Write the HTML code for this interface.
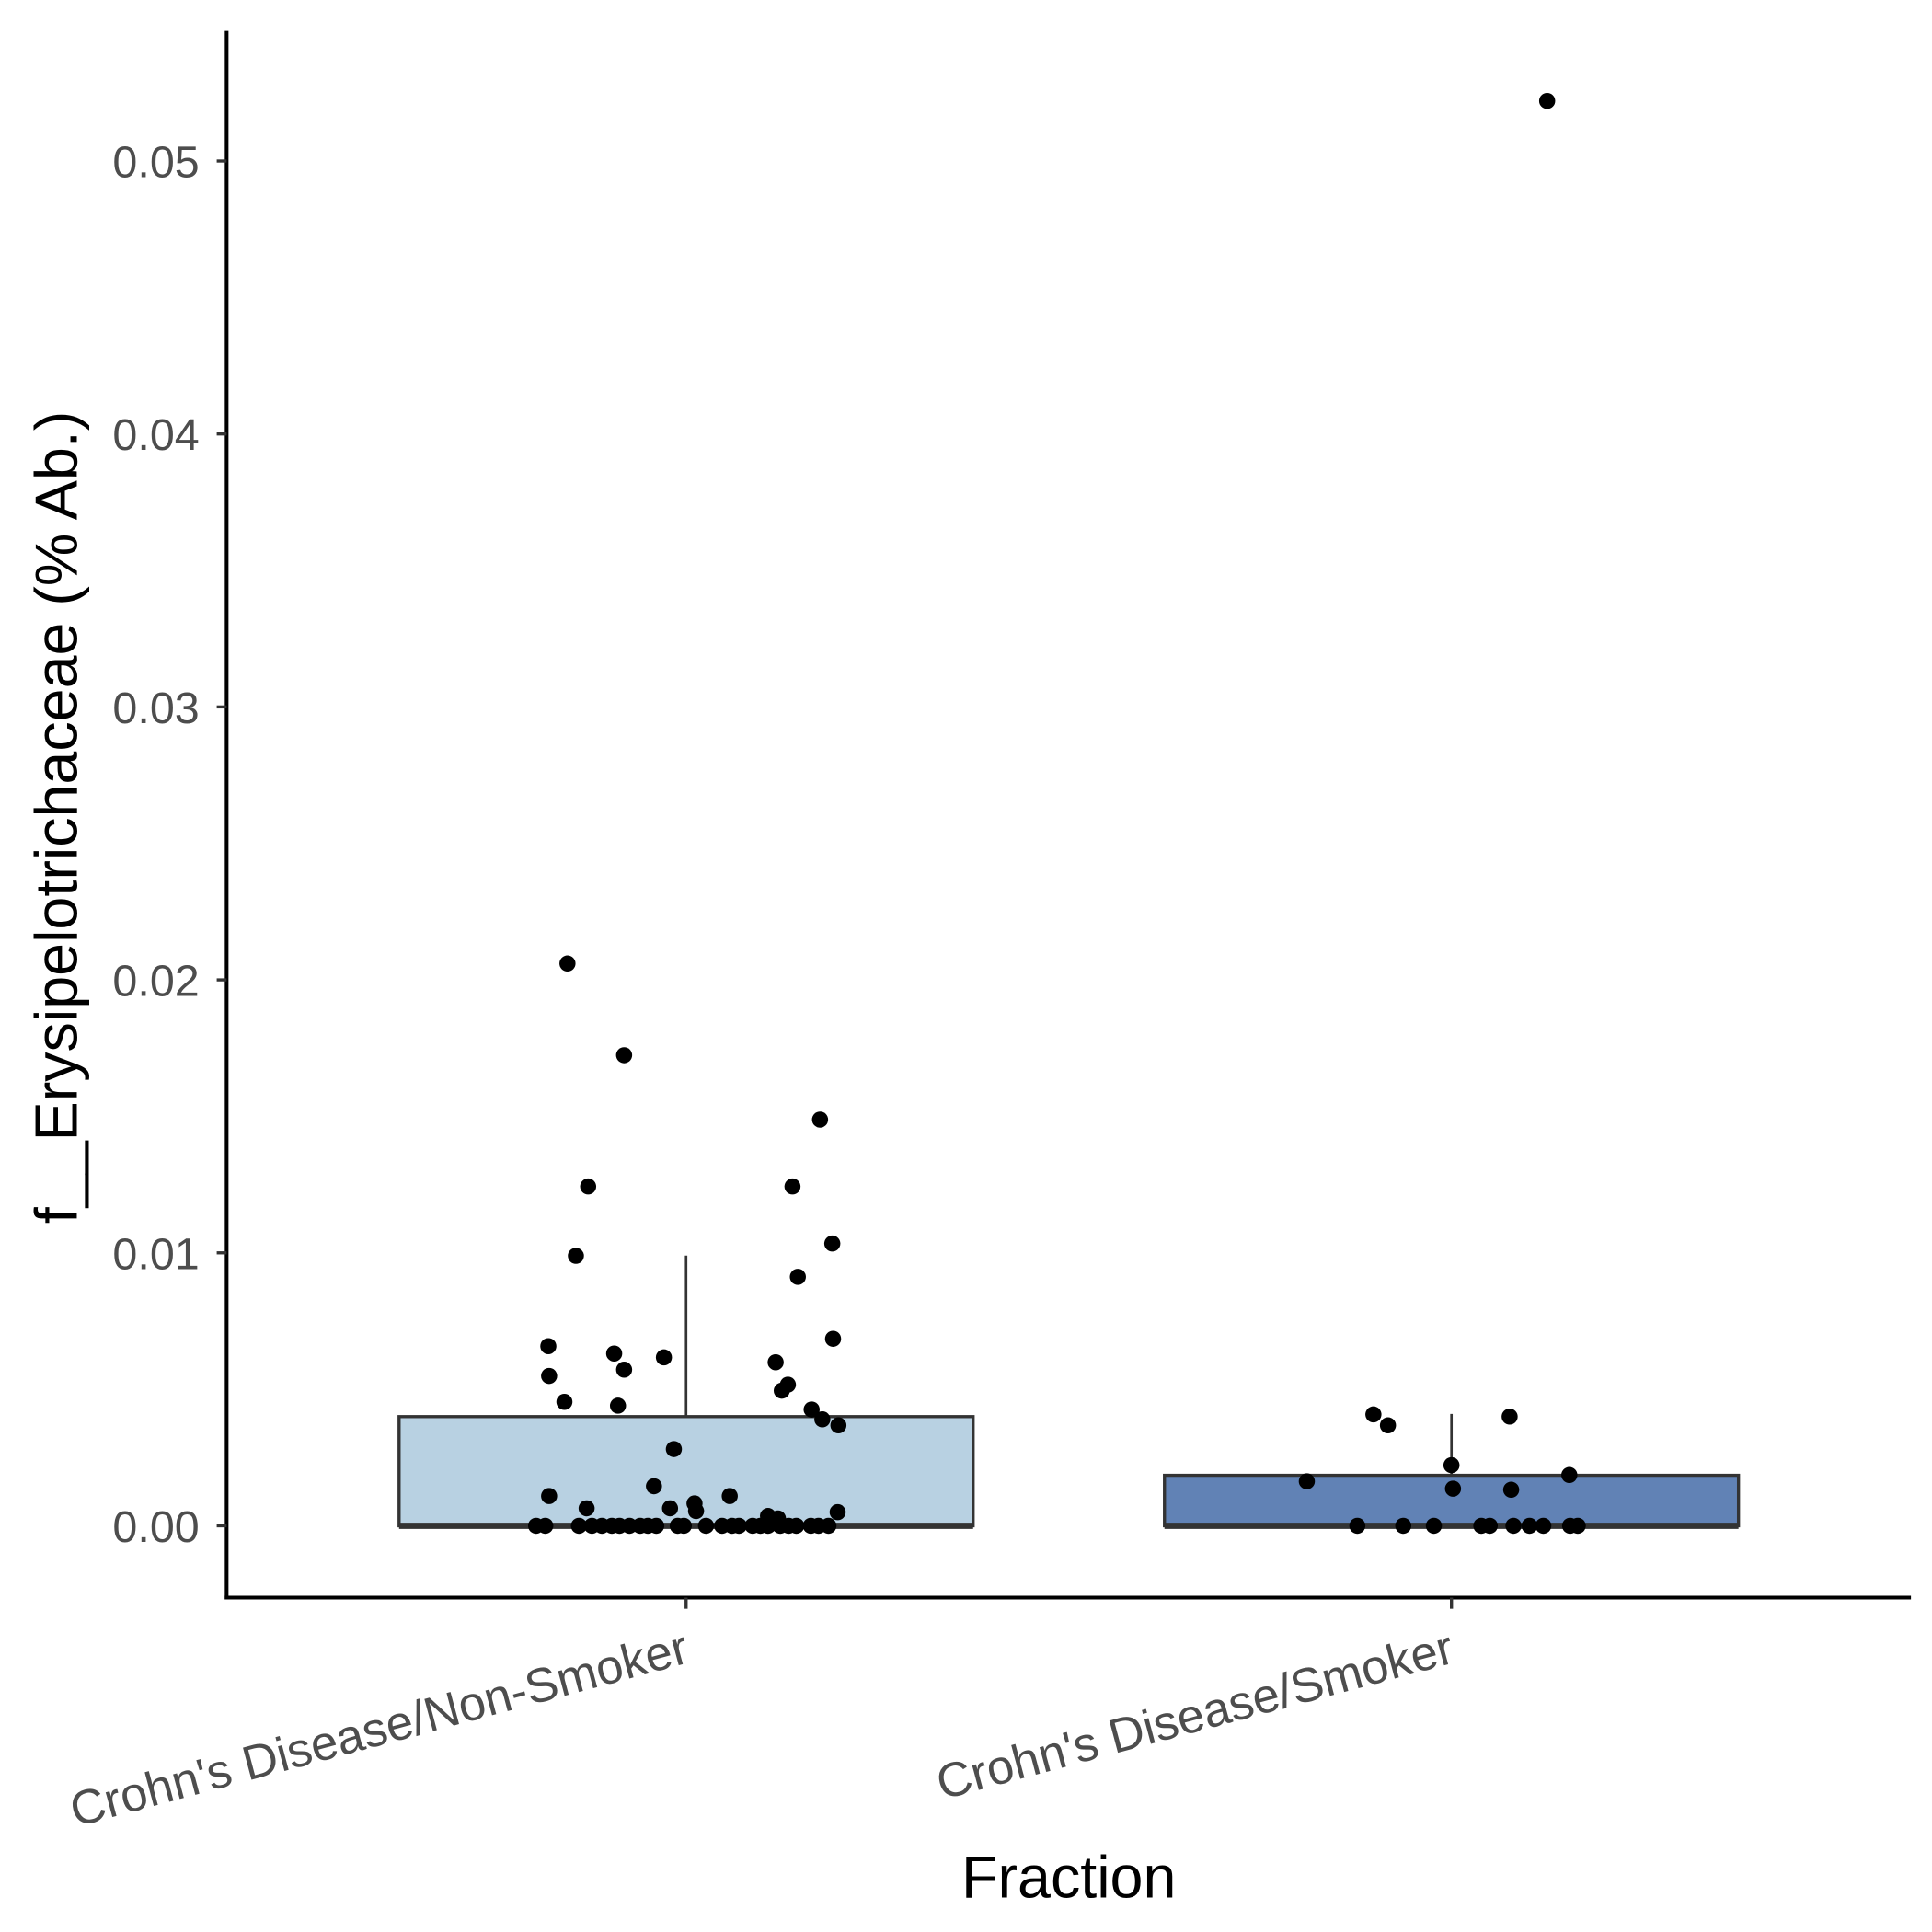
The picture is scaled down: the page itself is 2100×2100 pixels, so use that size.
<!DOCTYPE html>
<html><head><meta charset="utf-8"><style>html,body{margin:0;padding:0;background:#fff}svg{display:block}</style></head>
<body>
<svg id="chart" width="2100" height="2100" viewBox="0 0 1560 1560" xmlns="http://www.w3.org/2000/svg" font-family="Liberation Sans, sans-serif"></svg>
<script>
const categories = ["Crohn's Disease/Non-Smoker", "Crohn's Disease/Smoker"];
const boxFill = ["#b8d1e2", "#6182b5"];
const boxQ1 = [0, 0];
const boxMedian = [0, 0];
const boxQ3 = [0.0040, 0.00185];
const whiskerLow = [0, 0];
const whiskerHigh = [0.0099, 0.0041];
const yTicks = [0, 0.01, 0.02, 0.03, 0.04, 0.05];
const yTickLabels = ["0.00", "0.01", "0.02", "0.03", "0.04", "0.05"];
const ptJit1 = [-0.155,-0.081,0.175,-0.128,0.139,0.191,-0.144,0.146,0.192,-0.18,-0.094,-0.029,0.117,-0.081,-0.179,0.133,0.125,-0.159,-0.089,0.164,0.178,0.199,-0.016,-0.042,-0.179,0.057,-0.13,-0.021,0.011,0.013,0.198,0.107,0.12];
const ptVal1 = [0.0206,0.01724,0.01488,0.01243,0.01243,0.01034,0.00989,0.00912,0.00685,0.00658,0.00631,0.00617,0.00599,0.00572,0.00549,0.00517,0.00495,0.00454,0.0044,0.00426,0.0039,0.00368,0.00281,0.00145,0.00109,0.00109,0.00064,0.00064,0.00082,0.00054,0.0005,0.00036,0.00027];
const zeroJit1 = [-0.196,-0.184,-0.14,-0.123,-0.11,-0.097,-0.087,-0.074,-0.06,-0.05,-0.039,-0.011,-0.003,0.026,0.047,0.06,0.069,0.087,0.097,0.107,0.123,0.134,0.144,0.163,0.173,0.186];
const ptJit2 = [0.125,-0.102,0.076,-0.083,0,0.154,-0.189,0.002,0.078];
const ptVal2 = [0.0522,0.00408,0.004,0.00368,0.00222,0.00186,0.00163,0.00136,0.00132];
const zeroJit2 = [-0.123,-0.063,-0.023,0.039,0.05,0.081,0.102,0.12,0.155,0.165];

const svg = document.getElementById('chart');
const NS = 'http://www.w3.org/2000/svg';
const X0 = 183, XR = 1543, YT = 25, YB = 1290;
const xc = i => 554 + i * 618;
const bandW = 618;
const y = v => 1232 - v * 22040;
function mk(tag, attrs, parent) { const e = document.createElementNS(NS, tag); for (const k in attrs) e.setAttribute(k, attrs[k]); (parent || svg).appendChild(e); return e; }

categories.forEach((c, i) => {
  const g = mk('g', {});
  
  
  const hw = bandW * 0.375;
  mk('line', { x1: xc(i), x2: xc(i), y1: y(boxQ3[i]), y2: y(whiskerHigh[i]), stroke: '#333', 'stroke-width': 2 }, g);
  mk('line', { x1: xc(i), x2: xc(i), y1: y(boxQ1[i]), y2: y(whiskerLow[i]), stroke: '#333', 'stroke-width': 2 }, g);
  mk('rect', { x: xc(i) - hw, y: y(boxQ3[i]), width: 2 * hw, height: y(boxQ1[i]) - y(boxQ3[i]), fill: boxFill[i], stroke: '#333', 'stroke-width': 2.5 }, g);
  mk('line', { x1: xc(i) - hw, x2: xc(i) + hw, y1: y(boxMedian[i]), y2: y(boxMedian[i]), stroke: '#333', 'stroke-width': 5 }, g);
});

function pts(cat, jit, vals) {
  jit.forEach((j, k) => {
    const c = mk('circle', { cx: xc(cat) + j * bandW, cy: y(vals[k]), r: 6.5, fill: '#000' });
    
    
  });
}
pts(0, ptJit1, ptVal1);
pts(0, zeroJit1, zeroJit1.map(() => 0));
pts(1, ptJit2, ptVal2);
pts(1, zeroJit2, zeroJit2.map(() => 0));

const ya = mk('line', { x1: X0, x2: X0, y1: YT, y2: YB + 1.5, stroke: '#000', 'stroke-width': 3 });
 
const xa = mk('line', { x1: X0 - 1.5, x2: XR, y1: YB, y2: YB, stroke: '#000', 'stroke-width': 3 });
 

yTicks.forEach((t, k) => {
  mk('line', { x1: X0 - 8, x2: X0, y1: y(t), y2: y(t), stroke: '#333', 'stroke-width': 2.5 });
  const tx = mk('text', { x: X0 - 22, y: y(t) + 13, 'text-anchor': 'end', 'font-size': 36, fill: '#4d4d4d' });
  tx.textContent = yTickLabels[k];
  
  
});
categories.forEach((c, i) => {
  mk('line', { x1: xc(i), x2: xc(i), y1: YB, y2: YB + 9, stroke: '#333', 'stroke-width': 2.5 });
  const tx = mk('text', { x: xc(i) + 4, y: YB + 52, 'text-anchor': 'end', 'font-size': 39, fill: '#4d4d4d', transform: `rotate(-15 ${xc(i) + 4} ${YB + 52})` });
  tx.textContent = c;
  
  
});
const xt = mk('text', { x: 863, y: 1532, 'text-anchor': 'middle', 'font-size': 48, fill: '#000' });
xt.textContent = 'Fraction';
 
const yt = mk('text', { x: 62, y: 660, 'text-anchor': 'middle', 'font-size': 48, fill: '#000', transform: 'rotate(-90 62 660)' });
yt.textContent = 'f__Erysipelotrichaceae (% Ab.)';
 
</script>
</body></html>
